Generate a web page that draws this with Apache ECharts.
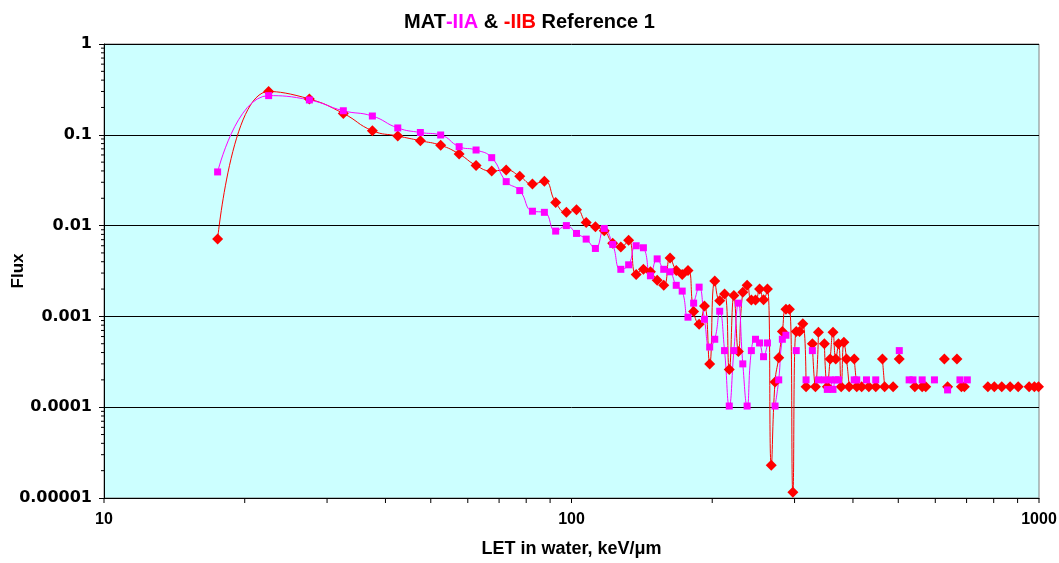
<!DOCTYPE html>
<html>
<head>
<meta charset="utf-8">
<script src="https://cdn.jsdelivr.net/npm/echarts@6/dist/echarts.min.js"></script>
<style>
html,body{margin:0;padding:0;background:#fff;}
#chart{width:1059px;height:563px;}
</style>
</head>
<body>
<div id="chart"></div>
<script>
// LET bin centres (keV/um) and flux values, MAT-IIA (magenta)
const iiaX = [17.5,22.5,27.5,32.5,37.5,42.5,47.5,52.5,57.5,62.5,67.5,72.5,77.5,82.5,87.5,92.5,97.5,102.5,107.5,112.5,117.5,122.5,127.5,132.5,137.5,142.5,147.5,152.5,157.5,162.5,167.5,172.5,177.5,182.5,187.5,192.5,197.5,202.5,207.5,212.5,217.5,222.5,227.5,232.5,237.5,242.5,247.5,252.5,257.5,262.5,272.5,277.5,282.5,287.5,302.5,317.5,327.5,337.5,347.5,352.5,357.5,362.5,367.5,372.5,402.5,407.5,427.5,447.5,502.5,527.5,537.5,562.5,597.5,637.5,677.5,702.5];
const iiaY = [0.039,0.27,0.242,0.184,0.161,0.119,0.106,0.0995,0.074,0.068,0.056,0.0305,0.0243,0.0144,0.014,0.0087,0.010,0.0082,0.0071,0.0056,0.0093,0.0062,0.0033,0.0037,0.0060,0.0057,0.0028,0.0043,0.0033,0.0031,0.0022,0.0019,0.00098,0.0014,0.0021,0.00093,0.00046,0.00056,0.00114,0.00042,0.000103,0.00042,0.0014,0.0003,0.000103,0.00042,0.00056,0.00051,0.00036,0.00051,0.000103,0.0002,0.00056,0.00062,0.00042,0.0002,0.00042,0.0002,0.0002,0.000157,0.0002,0.000157,0.0002,0.0002,0.0002,0.0002,0.0002,0.0002,0.00042,0.0002,0.0002,0.0002,0.0002,0.000155,0.0002,0.0002];

// MAT-IIB (red)
const iibX = [17.5,22.5,27.5,32.5,37.5,42.5,47.5,52.5,57.5,62.5,67.5,72.5,77.5,82.5,87.5,92.5,97.5,102.5,107.5,112.5,117.5,122.5,127.5,132.5,137.5,142.5,147.5,152.5,157.5,162.5,167.5,172.5,177.5,182.5,187.5,192.5,197.5,202.5,207.5,212.5,217.5,222.5,227.5,232.5,237.5,242.5,247.5,252.5,257.5,262.5,267.5,272.5,277.5,282.5,287.5,292.5,297.5,302.5,307.5,312.5,317.5,327.5,332.5,337.5,347.5,352.5,357.5,362.5,367.5,372.5,377.5,382.5,387.5,392.5,402.5,407.5,417.5,432.5,447.5,462.5,467.5,487.5,502.5,542.5,562.5,572.5,627.5,637.5,667.5,682.5,692.5,777.5,802.5,832.5,867.5,902.5,952.5,977.5,997.5];
const iibY = [0.0071,0.30,0.248,0.172,0.111,0.097,0.086,0.0766,0.0615,0.046,0.040,0.041,0.0349,0.0287,0.0308,0.018,0.014,0.0149,0.0108,0.0097,0.0088,0.0064,0.0058,0.0069,0.0029,0.0033,0.0031,0.0025,0.0022,0.0044,0.0032,0.0029,0.0032,0.00113,0.00082,0.0013,0.0003,0.00245,0.00149,0.00177,0.00026,0.0017,0.00041,0.00184,0.0022,0.00152,0.00152,0.002,0.00153,0.002,0.000023,0.00019,0.00035,0.00068,0.0012,0.0012,0.0000116,0.00068,0.00068,0.00083,0.000168,0.0005,0.000168,0.00067,0.0005,0.000168,0.00034,0.00067,0.00034,0.0005,0.000168,0.00052,0.00034,0.000168,0.00034,0.000168,0.000168,0.000168,0.000168,0.00034,0.000168,0.000168,0.00034,0.000168,0.000168,0.000168,0.00034,0.000168,0.00034,0.000168,0.000168,0.000168,0.000168,0.000168,0.000168,0.000168,0.000168,0.000168,0.000168];

// tick labels and tick positions
const xTickLabels = ['10','100','1000'];
const yTickLabels = ['0.00001','0.0001','0.001','0.01','0.1','1'];
const xMinorTicks = [10,20,30,40,50,60,70,80,90,100,200,300,400,500,600,700,800,900,1000];
const yMinorTicks = [2e-5,3e-5,4e-5,5e-5,6e-5,7e-5,8e-5,9e-5,2e-4,3e-4,4e-4,5e-4,6e-4,7e-4,8e-4,9e-4,2e-3,3e-3,4e-3,5e-3,6e-3,7e-3,8e-3,9e-3,0.02,0.03,0.04,0.05,0.06,0.07,0.08,0.09,0.2,0.3,0.4,0.5,0.6,0.7,0.8,0.9];

const BIN = 5;
function pairs(xs, ys) {
  const out = [];
  for (let i = 0; i < xs.length; i++) {
    if (i > 0 && xs[i] - xs[i - 1] > BIN * 1.1) out.push([(xs[i] + xs[i - 1]) / 2, '-']);
    out.push([xs[i], ys[i]]);
  }
  return out;
}

const FONT = '"Liberation Sans", Arial, sans-serif';
const WIDE = '"DejaVu Sans", "Liberation Sans", sans-serif';
const chart = echarts.init(document.getElementById('chart'), null, {renderer: 'canvas'});

chart.setOption({
  backgroundColor: '#ffffff',
  animation: false,
  title: {
    text: '{b|MAT}{m|-IIA}{b| & }{r|-IIB}{b| Reference 1}',
    left: 'center',
    top: 7,
    textStyle: {
      fontFamily: FONT,
      rich: {
        b: {color: '#000', fontWeight: 'bold', fontSize: 20, fontFamily: FONT},
        m: {color: '#ff00ff', fontWeight: 'bold', fontSize: 20, fontFamily: FONT},
        r: {color: '#ff0000', fontWeight: 'bold', fontSize: 20, fontFamily: FONT}
      }
    }
  },
  grid: {
    left: 104, right: 20, top: 44, bottom: 65,
    containLabel: false, outerBoundsMode: 'none',
    show: true, backgroundColor: '#ccffff', borderColor: '#808080', borderWidth: 1
  },
  xAxis: {
    type: 'log', logBase: 10, min: 10, max: 1000,
    name: 'LET in water, keV/\u03bcm',
    nameLocation: 'middle', nameGap: 42, nameMoveOverlap: false,
    nameTextStyle: {fontFamily: FONT, fontWeight: 'bold', fontSize: 18, color: '#000'},
    axisLine: {show: true, onZero: false, lineStyle: {color: '#000', width: 1}},
    axisTick: {show: false},
    splitLine: {show: false},
    axisLabel: {
      margin: 14, color: '#000', fontFamily: FONT, fontWeight: 'bold', fontSize: 16,
      formatter: v => xTickLabels[Math.round(Math.log10(v)) - 1]
    }
  },
  yAxis: {
    type: 'log', logBase: 10, min: 0.00001, max: 1,
    name: 'Flux', nameLocation: 'middle', nameGap: 77, nameRotate: 90, nameMoveOverlap: false,
    nameTextStyle: {fontFamily: FONT, fontWeight: 'bold', fontSize: 17, color: '#000'},
    axisLine: {show: true, onZero: false, lineStyle: {color: '#000', width: 1}},
    axisTick: {show: true, length: 5, lineStyle: {color: '#000'}},
    splitLine: {show: true, lineStyle: {color: '#000', width: 1}},
    axisLabel: {
      margin: 12, color: '#000', fontFamily: WIDE, fontWeight: 'bold', fontSize: 16,
      formatter: v => yTickLabels[Math.round(Math.log10(v)) + 5]
    }
  },
  series: [
    {
      type: 'custom', silent: true, clip: false, z: 5,
      data: xMinorTicks.map(v => [v, 0.00001]),
      renderItem: (params, api) => {
        const p = api.coord([api.value(0), api.value(1)]);
        return {type: 'line', shape: {x1: p[0], y1: p[1], x2: p[0], y2: p[1] + 5}, style: {stroke: '#000', lineWidth: 1}};
      }
    },
    {
      type: 'custom', silent: true, clip: false, z: 5,
      data: yMinorTicks.map(v => [10, v]),
      renderItem: (params, api) => {
        const p = api.coord([api.value(0), api.value(1)]);
        return {type: 'line', shape: {x1: p[0] - 3, y1: p[1], x2: p[0], y2: p[1]}, style: {stroke: '#000', lineWidth: 1}};
      }
    },
    {
      name: 'MAT-IIB', type: 'line', data: pairs(iibX, iibY),
      smooth: 0.5, connectNulls: false,
      symbol: 'diamond', symbolSize: 11, showAllSymbol: true,
      lineStyle: {color: '#ff0000', width: 1},
      itemStyle: {color: '#ff0000'}
    },
    {
      name: 'MAT-IIA', type: 'line', data: pairs(iiaX, iiaY),
      smooth: 0.5, connectNulls: false,
      symbol: 'rect', symbolSize: 7, showAllSymbol: true,
      lineStyle: {color: '#ff00ff', width: 1},
      itemStyle: {color: '#ff00ff'}
    }
  ]
});
</script>
</body>
</html>
